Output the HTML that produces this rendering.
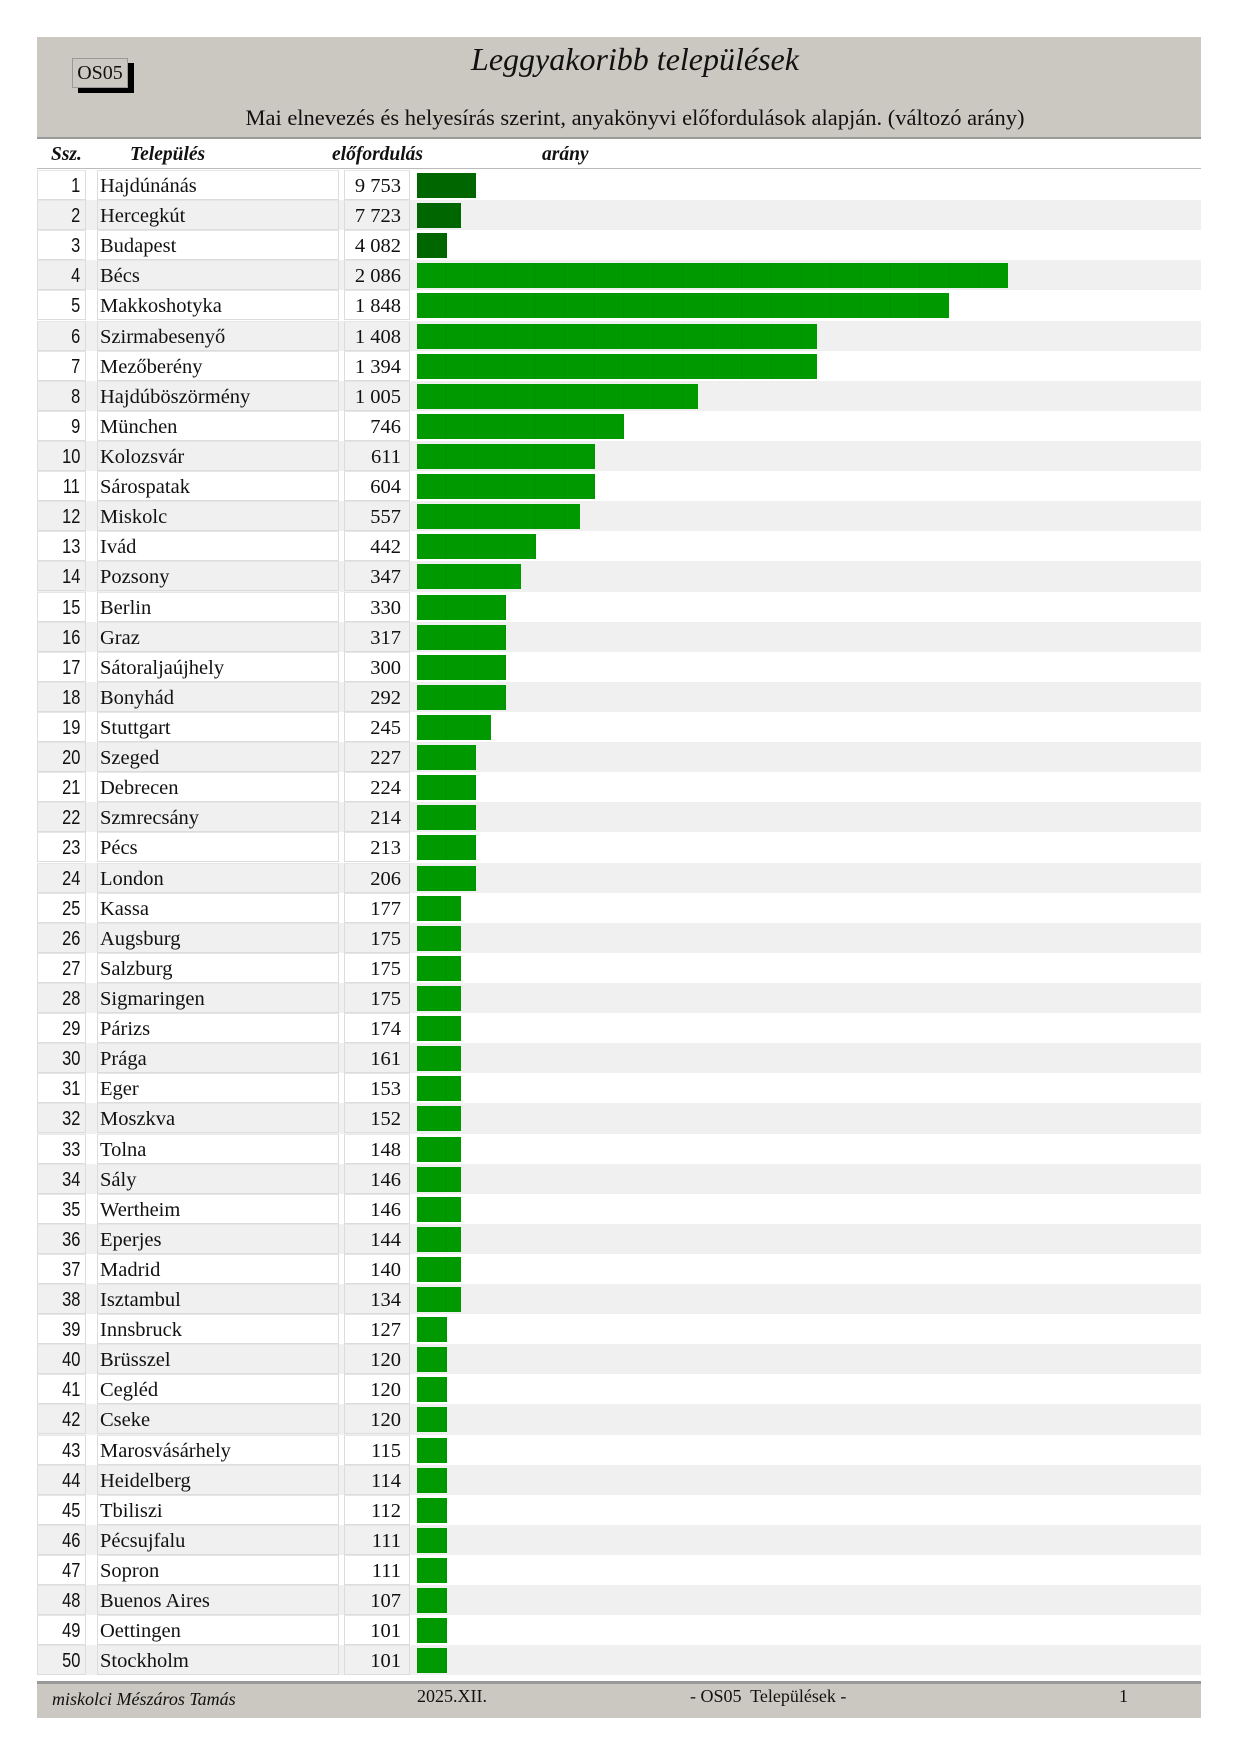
<!DOCTYPE html>
<html><head><meta charset="utf-8"><style>
body{margin:0;width:1240px;height:1754px;background:#fff;position:relative;overflow:hidden;font-family:"Liberation Serif",serif;color:#111}
.hdr{position:absolute;left:37px;top:37px;width:1164px;height:100px;background:#cbc8c1;border-bottom:2px solid #9a9a9a}
.os{position:absolute;left:72px;top:58px;width:54px;height:28px;border:1px solid #999;background:#cbc8c1;font-size:20px;line-height:28px;text-align:center;box-shadow:6px 5px 0 #000}
.title{position:absolute;left:0;width:1270px;text-align:center;top:41px;font-size:32px;font-style:italic;font-family:"Liberation Serif",serif}
.sub{position:absolute;left:0;width:1270px;text-align:center;top:105px;font-size:22.5px}
.ch{position:absolute;top:144px;font-size:19.5px;font-weight:bold;font-style:italic}
.hline{position:absolute;left:37px;top:168px;width:1164px;height:1px;background:#bbb}
.rows{position:absolute;left:37px;top:170px;width:1164px}
.r{position:relative;height:30.12px;background:#fff}
.r:nth-child(even){background:#f0f0f0}
.n,.t,.c{position:absolute;top:0;height:28px;border:1px solid #dcdcdc;border-top-color:#e6e6e6;line-height:30px;font-size:20.5px;box-sizing:content-box}
.n{left:0;width:47px;text-align:right;font-family:"Liberation Sans",sans-serif;font-size:20px}
.n span{display:inline-block;transform:scaleX(.82);transform-origin:right;padding-right:6px}
.t{left:60px;padding-left:2px;width:238px}
.c{left:307px;width:56px;text-align:right;padding-right:8px}
.b{position:absolute;left:380px;top:3px;height:25px;background:#009900;background-image:repeating-linear-gradient(90deg,rgba(0,0,0,0) 0,rgba(0,0,0,0) 28.6px,rgba(0,90,0,.12) 28.6px,rgba(0,90,0,.12) 29.6px)}
.d{background-color:#006600}
.ft{position:absolute;left:37px;top:1681px;width:1164px;height:34px;background:#cbc8c1;border-top:3px solid #999}
.ft div{position:absolute;top:4px;font-size:18px}
</style></head><body>
<div class="hdr"></div>
<div class="os">OS05</div>
<div class="title">Leggyakoribb települések</div>
<div class="sub">Mai elnevezés és helyesírás szerint, anyakönyvi előfordulások alapján. (változó arány)</div>
<div class="ch" style="left:51px">Ssz.</div>
<div class="ch" style="left:130px">Település</div>
<div class="ch" style="left:332px">előfordulás</div>
<div class="ch" style="left:542px">arány</div>
<div class="hline"></div>
<div class="rows">
<div class="r"><div class="n"><span>1</span></div><div class="t">Hajdúnánás</div><div class="c">9 753</div><div class="b d" style="width:59px"></div></div>
<div class="r"><div class="n"><span>2</span></div><div class="t">Hercegkút</div><div class="c">7 723</div><div class="b d" style="width:44px"></div></div>
<div class="r"><div class="n"><span>3</span></div><div class="t">Budapest</div><div class="c">4 082</div><div class="b d" style="width:30px"></div></div>
<div class="r"><div class="n"><span>4</span></div><div class="t">Bécs</div><div class="c">2 086</div><div class="b" style="width:591px"></div></div>
<div class="r"><div class="n"><span>5</span></div><div class="t">Makkoshotyka</div><div class="c">1 848</div><div class="b" style="width:532px"></div></div>
<div class="r"><div class="n"><span>6</span></div><div class="t">Szirmabesenyő</div><div class="c">1 408</div><div class="b" style="width:400px"></div></div>
<div class="r"><div class="n"><span>7</span></div><div class="t">Mezőberény</div><div class="c">1 394</div><div class="b" style="width:400px"></div></div>
<div class="r"><div class="n"><span>8</span></div><div class="t">Hajdúböszörmény</div><div class="c">1 005</div><div class="b" style="width:281px"></div></div>
<div class="r"><div class="n"><span>9</span></div><div class="t">München</div><div class="c">746</div><div class="b" style="width:207px"></div></div>
<div class="r"><div class="n"><span>10</span></div><div class="t">Kolozsvár</div><div class="c">611</div><div class="b" style="width:178px"></div></div>
<div class="r"><div class="n"><span>11</span></div><div class="t">Sárospatak</div><div class="c">604</div><div class="b" style="width:178px"></div></div>
<div class="r"><div class="n"><span>12</span></div><div class="t">Miskolc</div><div class="c">557</div><div class="b" style="width:163px"></div></div>
<div class="r"><div class="n"><span>13</span></div><div class="t">Ivád</div><div class="c">442</div><div class="b" style="width:119px"></div></div>
<div class="r"><div class="n"><span>14</span></div><div class="t">Pozsony</div><div class="c">347</div><div class="b" style="width:104px"></div></div>
<div class="r"><div class="n"><span>15</span></div><div class="t">Berlin</div><div class="c">330</div><div class="b" style="width:89px"></div></div>
<div class="r"><div class="n"><span>16</span></div><div class="t">Graz</div><div class="c">317</div><div class="b" style="width:89px"></div></div>
<div class="r"><div class="n"><span>17</span></div><div class="t">Sátoraljaújhely</div><div class="c">300</div><div class="b" style="width:89px"></div></div>
<div class="r"><div class="n"><span>18</span></div><div class="t">Bonyhád</div><div class="c">292</div><div class="b" style="width:89px"></div></div>
<div class="r"><div class="n"><span>19</span></div><div class="t">Stuttgart</div><div class="c">245</div><div class="b" style="width:74px"></div></div>
<div class="r"><div class="n"><span>20</span></div><div class="t">Szeged</div><div class="c">227</div><div class="b" style="width:59px"></div></div>
<div class="r"><div class="n"><span>21</span></div><div class="t">Debrecen</div><div class="c">224</div><div class="b" style="width:59px"></div></div>
<div class="r"><div class="n"><span>22</span></div><div class="t">Szmrecsány</div><div class="c">214</div><div class="b" style="width:59px"></div></div>
<div class="r"><div class="n"><span>23</span></div><div class="t">Pécs</div><div class="c">213</div><div class="b" style="width:59px"></div></div>
<div class="r"><div class="n"><span>24</span></div><div class="t">London</div><div class="c">206</div><div class="b" style="width:59px"></div></div>
<div class="r"><div class="n"><span>25</span></div><div class="t">Kassa</div><div class="c">177</div><div class="b" style="width:44px"></div></div>
<div class="r"><div class="n"><span>26</span></div><div class="t">Augsburg</div><div class="c">175</div><div class="b" style="width:44px"></div></div>
<div class="r"><div class="n"><span>27</span></div><div class="t">Salzburg</div><div class="c">175</div><div class="b" style="width:44px"></div></div>
<div class="r"><div class="n"><span>28</span></div><div class="t">Sigmaringen</div><div class="c">175</div><div class="b" style="width:44px"></div></div>
<div class="r"><div class="n"><span>29</span></div><div class="t">Párizs</div><div class="c">174</div><div class="b" style="width:44px"></div></div>
<div class="r"><div class="n"><span>30</span></div><div class="t">Prága</div><div class="c">161</div><div class="b" style="width:44px"></div></div>
<div class="r"><div class="n"><span>31</span></div><div class="t">Eger</div><div class="c">153</div><div class="b" style="width:44px"></div></div>
<div class="r"><div class="n"><span>32</span></div><div class="t">Moszkva</div><div class="c">152</div><div class="b" style="width:44px"></div></div>
<div class="r"><div class="n"><span>33</span></div><div class="t">Tolna</div><div class="c">148</div><div class="b" style="width:44px"></div></div>
<div class="r"><div class="n"><span>34</span></div><div class="t">Sály</div><div class="c">146</div><div class="b" style="width:44px"></div></div>
<div class="r"><div class="n"><span>35</span></div><div class="t">Wertheim</div><div class="c">146</div><div class="b" style="width:44px"></div></div>
<div class="r"><div class="n"><span>36</span></div><div class="t">Eperjes</div><div class="c">144</div><div class="b" style="width:44px"></div></div>
<div class="r"><div class="n"><span>37</span></div><div class="t">Madrid</div><div class="c">140</div><div class="b" style="width:44px"></div></div>
<div class="r"><div class="n"><span>38</span></div><div class="t">Isztambul</div><div class="c">134</div><div class="b" style="width:44px"></div></div>
<div class="r"><div class="n"><span>39</span></div><div class="t">Innsbruck</div><div class="c">127</div><div class="b" style="width:30px"></div></div>
<div class="r"><div class="n"><span>40</span></div><div class="t">Brüsszel</div><div class="c">120</div><div class="b" style="width:30px"></div></div>
<div class="r"><div class="n"><span>41</span></div><div class="t">Cegléd</div><div class="c">120</div><div class="b" style="width:30px"></div></div>
<div class="r"><div class="n"><span>42</span></div><div class="t">Cseke</div><div class="c">120</div><div class="b" style="width:30px"></div></div>
<div class="r"><div class="n"><span>43</span></div><div class="t">Marosvásárhely</div><div class="c">115</div><div class="b" style="width:30px"></div></div>
<div class="r"><div class="n"><span>44</span></div><div class="t">Heidelberg</div><div class="c">114</div><div class="b" style="width:30px"></div></div>
<div class="r"><div class="n"><span>45</span></div><div class="t">Tbiliszi</div><div class="c">112</div><div class="b" style="width:30px"></div></div>
<div class="r"><div class="n"><span>46</span></div><div class="t">Pécsujfalu</div><div class="c">111</div><div class="b" style="width:30px"></div></div>
<div class="r"><div class="n"><span>47</span></div><div class="t">Sopron</div><div class="c">111</div><div class="b" style="width:30px"></div></div>
<div class="r"><div class="n"><span>48</span></div><div class="t">Buenos Aires</div><div class="c">107</div><div class="b" style="width:30px"></div></div>
<div class="r"><div class="n"><span>49</span></div><div class="t">Oettingen</div><div class="c">101</div><div class="b" style="width:30px"></div></div>
<div class="r"><div class="n"><span>50</span></div><div class="t">Stockholm</div><div class="c">101</div><div class="b" style="width:30px"></div></div>
</div>
<div class="ft">
<div style="left:15px;font-style:italic;top:5px">miskolci Mészáros Tamás</div>
<div style="left:380px;top:2px">2025.XII.</div>
<div style="left:653px;top:2px">- OS05&nbsp; Települések -</div>
<div style="left:1082px;top:2px">1</div>
</div>
</body></html>
